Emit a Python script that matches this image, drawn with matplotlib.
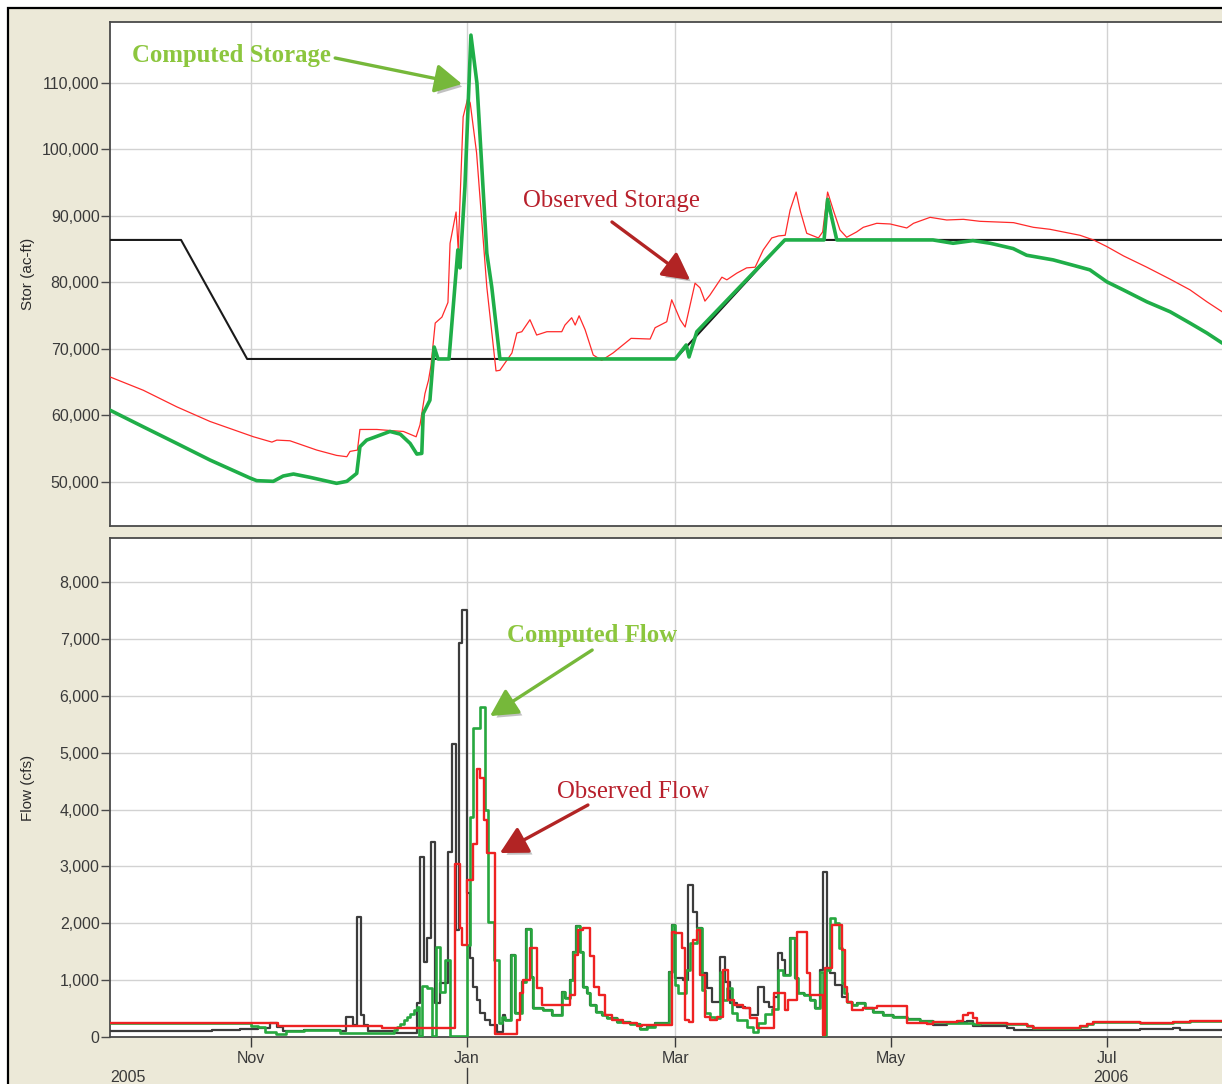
import datetime
import numpy as np
import matplotlib
matplotlib.use('Agg')
import matplotlib.pyplot as plt
import matplotlib.dates as mdates
import matplotlib.patheffects as pe
import matplotlib.transforms as mtrans
from matplotlib.patches import Rectangle
from matplotlib.lines import Line2D
from matplotlib.ticker import FuncFormatter

# ---------------- data (x = days since 2005-10-01) ----------------
guide_days = [-9, 11.2, 29.9, 151, 182, 310]
guide_stor = [86400, 86400, 68500, 68500, 86400, 86400]

comp_stor_days = [-8.9, 0.5, 10.0, 19.4, 30.7, 32.6, 37.3, 40.1, 43.0, 47.7, 55.2, 58.1,
                  60.9, 61.8, 63.7, 70.3, 73.2, 76.0, 77.9, 79.3, 79.7, 81.6, 82.8, 83.9,
                  87.0, 89.5, 90.1, 91.5, 93.2, 94.9, 97.7, 99.1, 101.4, 151.0, 154.1,
                  154.9, 157.1, 182.0, 193.1, 194.1, 196.7, 223.9, 229.6, 235.2, 240.1,
                  246.6, 250.4, 257.9, 263.5, 268.3, 273.1, 277.7, 284.4, 291.0, 296.6,
                  301.4, 305.7, 308.5]
comp_stor = [60800, 58300, 55800, 53300, 50600, 50200, 50100, 50900, 51200, 50700, 49800, 50100,
             51300, 55300, 56300, 57600, 57200, 55800, 54200, 54300, 60300, 62300, 70300, 68500,
             68500, 84900, 82200, 94400, 117200, 110000, 84400, 79300, 68500, 68500, 70600,
             68800, 72600, 86400, 86400, 92500, 86400, 86400, 85900, 86300, 85900,
             85100, 84100, 83400, 82600, 81900, 80100, 78900, 77100, 75600, 73900,
             72400, 70900, 70400]

obs_stor_days = [-8.9, 0.5, 10.0, 19.4, 31.7, 36.9, 38.3, 42.0, 49.6, 55.2, 58.1, 59.0, 61.1,
                 61.8, 66.6, 71.3, 74.1, 77.7, 78.8, 80.2, 81.2, 81.9, 83.1, 85.0, 86.7, 87.3,
                 89.0, 89.6, 91.0, 92.3, 93.0, 94.8, 97.7, 100.3, 101.4, 104.8, 106.2, 107.6,
                 109.9, 111.8, 114.7, 118.9, 119.8, 121.7, 122.7, 123.8, 125.5, 127.8, 130.2,
                 133.4, 138.5, 143.9, 145.3, 148.6, 150.0, 152.4, 153.8, 156.6, 158.0, 159.4,
                 160.8, 164.2, 165.6, 168.4, 171.2, 173.6, 175.9, 178.3, 180.2, 182.1, 183.5,
                 185.2, 186.3, 188.2, 191.5, 192.7, 194.1, 195.7, 197.6, 199.5, 202.3, 204.2,
                 208.0, 211.8, 216.5, 218.4, 223.1, 227.8, 232.5, 237.2, 242.0, 246.7, 252.3,
                 257.0, 261.7, 265.5, 269.3, 273.1, 277.8, 284.4, 291.0, 296.6, 301.4, 305.7,
                 308.5]
obs_stor = [65800, 63800, 61300, 59100, 56800, 56000, 56300, 56200, 54800, 54000, 53800, 54600, 54800,
            57900, 57900, 57700, 57600, 56800, 58600, 63300, 65300, 67500, 73900, 74800, 77000, 85900,
            90600, 84900, 104900, 107700, 107000, 99500, 79300, 66700, 66800, 69400, 72400, 72600,
            74400, 72100, 72600, 72600, 73600, 74700, 73600, 75000, 72900, 69100, 68300,
            69400, 71600, 71500, 73200, 74100, 77400, 74400, 73300, 79900, 79200, 77200,
            78100, 80800, 80400, 81400, 82200, 82300, 84900, 86700, 87000, 87100, 90900,
            93600, 90900, 87400, 86700, 87600, 93600, 90900, 87900, 86800, 87600, 88300,
            88900, 88800, 88200, 88900, 89800, 89400, 89500, 89200, 89100, 89000, 88300,
            88000, 87500, 87100, 86400, 85400, 84000, 82300, 80500, 78900, 77100, 75600,
            74800]

inflow_days = [-9, 20, 28, 33, 36.5, 38.3, 40.0, 46.0, 52.0, 56.2, 57.9, 59.95, 60.9, 62.0, 63.0,
               64.2, 71.3, 77.9, 78.8, 80.0, 80.9, 81.9, 83.1, 84.5, 86.8, 87.8, 89.0, 89.7, 90.7,
               92.0, 93.0, 93.9, 94.8, 95.8, 97.2, 98.6, 100.5, 102.4, 102.9, 104.6, 105.6, 107.6,
               108.8, 110.1, 110.9, 113.7, 116.1, 118.9, 119.8, 121.2, 122.2, 122.9, 124.1, 124.8,
               126.0, 126.9, 128.6, 130.2, 131.6, 134.4, 138.2, 141.0, 142.9, 145.3, 149.1, 150.0,
               150.9, 153.3, 154.7, 156.1, 157.1, 158.5, 159.9, 161.3, 163.7, 165.1, 166.5, 168.4,
               170.8, 172.2, 174.5, 176.0, 177.4, 178.8, 180.2, 181.1, 182.1, 183.5, 184.9, 185.8,
               187.3, 189.1, 190.6, 192.0, 192.9, 193.9, 194.8, 196.2, 198.1, 199.5, 200.9, 202.3,
               204.7, 207.0, 209.9, 212.7, 216.5, 220.3, 224.0, 227.8, 231.6, 233.5, 235.3, 244.8,
               246.7, 282.5, 291.9, 293.8, 310]
inflow = [110, 125, 145, 160, 250, 170, 110, 125, 130, 112, 358, 212, 2104, 388, 212,
          112, 65, 593, 3171, 1325, 1735, 3435, 593, 944, 3259, 5152, 1875, 6933, 7507,
          2526, 1384, 886, 651, 417, 300, 212, 95, 387, 299, 1442, 420, 973,
          1893, 1060, 504, 475, 387, 797, 680, 1002, 1500, 1951, 1500, 885,
          768, 563, 445, 387, 328, 270, 229, 135, 182, 241, 1149, 1969,
          1032, 1000, 2672, 2204, 1911, 1120, 856, 622, 1413, 973, 592, 534,
          504, 387, 885, 622, 534, 709, 1471, 1354, 1090, 1735, 1032, 768,
          739, 651, 504, 1178, 2907, 1178, 1120, 915, 700, 621, 563, 604,
          504, 446, 387, 346, 311, 282, 211, 241, 270, 290, 200, 153,
          123, 135, 150, 123, 123]

comp_flow_days = [-9, 31.0, 33.0, 35.0, 38.0, 41.0, 46.0, 52.0, 56.2, 71.3, 72.3, 73.2, 74.2, 75.1,
                  76.1, 77.0, 78.0, 78.6, 79.5, 80.9, 82.3, 83.2, 84.5, 85.9, 87.3, 92.0, 92.8,
                  93.9, 95.8, 97.2, 98.1, 99.7, 101.2, 101.9, 102.9, 104.6, 105.6, 107.6, 108.8,
                  110.1, 110.9, 113.7, 116.1, 118.9, 119.8, 121.2, 122.2, 122.9, 124.1, 124.8,
                  126.0, 126.9, 128.6, 130.2, 131.6, 134.4, 138.2, 141.0, 142.9, 145.3, 149.1,
                  150.0, 150.9, 151.9, 154.0, 155.2, 157.1, 158.5, 159.4, 160.9, 162.3, 163.7,
                  164.6, 165.6, 167.0, 168.4, 171.2, 173.1, 174.5, 176.4, 178.3, 180.2, 181.6,
                  183.5, 184.9, 185.8, 187.3, 189.1, 190.6, 192.0, 192.9, 193.7, 194.8, 196.2,
                  197.2, 198.1, 198.8, 199.5, 200.9, 202.3, 204.7, 207.0, 209.9, 212.7, 216.5,
                  220.3, 224.0, 227.8, 231.6, 235.3, 237.2, 241.0, 244.8, 250.4, 252.3, 265.5,
                  267.5, 269.3, 282.5, 291.9, 296.6, 310]
comp_flow = [240, 200, 170, 80, 50, 100, 120, 130, 65, 117, 176, 234, 293, 352,
             410, 469, 527, 20, 897, 856, 20, 1589, 798, 1354, 20, 1618, 3874,
             5427, 5808, 3991, 2028, 1354, 240, 357, 299, 1442, 420, 973, 1893,
             1060, 504, 475, 387, 797, 680, 1002, 1500, 1951, 1500, 885,
             768, 563, 445, 387, 328, 270, 229, 135, 182, 241, 1149,
             1969, 915, 768, 1178, 1647, 1911, 827, 416, 358, 330, 1149,
             651, 856, 416, 299, 182, 94, 250, 400, 500, 1178, 1090,
             1735, 1032, 768, 739, 651, 504, 1149, 30, 1180, 2087, 1999,
             1559, 950, 768, 621, 563, 604, 504, 446, 387, 346, 311,
             282, 258, 241, 245, 229, 240, 240, 229, 190, 164, 190,
             230, 270, 252, 265, 287, 287]

obs_flow_days = [-9, 36.5, 38.5, 68.0, 88.7, 90.1, 90.8, 92.0, 93.9, 95.0, 95.8, 96.9, 97.7, 100.0,
                 106.2, 107.1, 108.0, 109.9, 111.8, 113.2, 121.2, 122.7, 123.6, 125.0, 126.9, 128.0,
                 129.3, 131.1, 133.0, 136.3, 140.1, 141.5, 150.0, 150.9, 152.8, 153.8, 155.0, 156.1,
                 157.1, 158.0, 159.4, 160.9, 162.7, 164.6, 166.0, 167.5, 170.3, 172.2, 174.1, 178.8,
                 182.1, 183.0, 185.4, 188.2, 189.1, 192.9, 193.4, 195.3, 198.1, 199.0, 199.5, 200.9,
                 204.2, 208.0, 216.5, 222.1, 224.0, 230.6, 232.5, 233.9, 235.3, 236.3, 237.2, 241.0,
                 244.8, 250.4, 252.3, 265.5, 267.5, 269.3, 282.5, 291.9, 296.6, 310]
obs_flow = [240, 250, 190, 155, 3050, 1910, 1620, 2760, 3400, 4720, 4550, 3820, 3230, 55,
            300, 780, 1000, 1560, 855, 560, 740, 1440, 1880, 1910, 1420, 885,
            740, 390, 300, 240, 195, 211, 1852, 1823, 1559, 299, 270, 1706,
            1881, 1090, 358, 299, 358, 1178, 651, 563, 504, 328, 153, 768,
            475, 651, 1852, 1120, 739, 30, 1207, 1969, 1530, 885, 621, 475,
            504, 545, 252, 230, 270, 290, 387, 416, 330, 240, 252, 240,
            229, 190, 164, 190, 230, 270, 252, 265, 287, 287]

stor_ticks = [50000, 60000, 70000, 80000, 90000, 100000, 110000]
flow_ticks = [0, 1000, 2000, 3000, 4000, 5000, 6000, 7000, 8000]
month_ticks = ['2005-11-01', '2006-01-01', '2006-03-01', '2006-05-01', '2006-07-01']
month_labels = ['Nov', 'Jan', 'Mar', 'May', 'Jul']

# ---------------- helpers ----------------
BASE = mdates.date2num(datetime.datetime(2005, 10, 1))


def dn(days):
    return BASE + np.asarray(days, dtype=float)


W, H = 1222, 1084
fig = plt.figure(figsize=(W / 100, H / 100), dpi=100)
fig.patch.set_facecolor('white')

# beige panel with black frame
fig.add_artist(Rectangle((8 / W, -0.2), 1.2, 1 - 8 / H + 0.2, transform=fig.transFigure,
                         facecolor='#ECE9D8', edgecolor='black', lw=1.6, zorder=0))

TICK_FONT = dict(family='Liberation Sans', size=11.5, color='#3a3a3a')
xl = (-8.9, 308.5)
ax_w = (1232 - 110) / W

ax1 = fig.add_axes([110 / W, 1 - 526 / H, ax_w, (526 - 22) / H])
ax2 = fig.add_axes([110 / W, 1 - 1037 / H, ax_w, (1037 - 538) / H])

tick_pos = [mdates.date2num(datetime.datetime.fromisoformat(m)) for m in month_ticks]

for ax in (ax1, ax2):
    ax.set_facecolor('white')
    ax.set_xlim(dn(xl[0]), dn(xl[1]))
    ax.set_xticks(tick_pos)
    ax.grid(True, color='#d2d2d2', lw=1.0)
    ax.set_axisbelow(True)
    for s in ('left', 'bottom', 'top'):
        ax.spines[s].set_color('#4a4a4a')
        ax.spines[s].set_linewidth(1.3)
    ax.spines['right'].set_visible(False)
    ax.tick_params(axis='y', length=6.5, width=1, color='#4a4a4a', pad=1)

fmt = FuncFormatter(lambda v, p: f'{int(round(v)):,}')

# top storage panel
ax1.plot(dn(guide_days), guide_stor, color='#1a1a1a', lw=1.5, zorder=3)
ax1.plot(dn(obs_stor_days), obs_stor, color='#ff2a2a', lw=0.9, zorder=4)
ax1.plot(dn(comp_stor_days), comp_stor, color='#1fae48', lw=2.6, zorder=5, solid_joinstyle='round')
ax1.set_ylim(43383, 119173)
ax1.set_yticks(stor_ticks)
ax1.yaxis.set_major_formatter(fmt)
ax1.tick_params(axis='x', length=0, labelbottom=False)
ax1.set_ylabel('Stor (ac-ft)', fontdict=dict(family='Liberation Sans', size=11, color='#2a2a2a'))

# bottom flow panel
ax2.plot(dn(inflow_days), inflow, color='#3c3c3c', lw=1.6, drawstyle='steps-post', zorder=3)
ax2.plot(dn(comp_flow_days), comp_flow, color='#27a83f', lw=1.9, drawstyle='steps-post', zorder=4)
ax2.plot(dn(obs_flow_days), obs_flow, color='#ee2222', lw=1.7, drawstyle='steps-post', zorder=5)
ax2.set_ylim(0, 8774)
ax2.set_yticks(flow_ticks)
ax2.yaxis.set_major_formatter(fmt)
ax2.set_xticklabels(month_labels)
ax2.tick_params(axis='x', length=7, width=1, color='#3a3a3a', pad=3, direction='out')
ax2.set_ylabel('Flow (cfs)', fontdict=dict(family='Liberation Sans', size=11, color='#2a2a2a'))

for ax in (ax1, ax2):
    for lab in ax.get_yticklabels() + ax.get_xticklabels():
        lab.set_fontfamily('Liberation Sans')
        lab.set_fontsize(11.5)
        lab.set_color('#3a3a3a')

# y-labels centred near x ~ 27 px like the reference
ax1.yaxis.set_label_coords(-(110 - 35) / (ax_w * W), 0.5)
ax2.yaxis.set_label_coords(-(110 - 35) / (ax_w * W), 0.5)

# year labels and separator tick
blend = mtrans.blended_transform_factory(ax2.transData, fig.transFigure)
fig.text(110 / W, 1 - 1078 / H, '2005', ha='left', va='center', **TICK_FONT)
fig.text(1093 / W, 1 - 1078 / H, '2006', ha='left', va='center', **TICK_FONT)
fig.add_artist(Line2D([tick_pos[1], tick_pos[1]], [1 - 1068 / H, -0.01], transform=blend,
                      color='#3a3a3a', lw=1))

# ---------------- annotations ----------------
GREEN_TXT = '#8cc63e'
GREEN_ARR = '#76b83a'
RED_TXT = '#b8202c'
RED_ARR = '#b22424'
shadow = [pe.SimplePatchShadow(offset=(2.5, -2.5), shadow_rgbFace='#777777', alpha=0.45), pe.Normal()]
arrowstyle = '-|>,head_length=0.75,head_width=0.4'


def arrow(ax, tail, tip, color):
    a = ax.annotate('', xy=(dn(tip[0]), tip[1]), xytext=(dn(tail[0]), tail[1]),
                    arrowprops=dict(arrowstyle=arrowstyle, color=color, lw=2.4,
                                    mutation_scale=22, shrinkA=0, shrinkB=0), zorder=8)
    a.arrow_patch.set_path_effects(shadow)


ax1.text(dn(53.6), 114200, 'Computed Storage', ha='right', va='center', color=GREEN_TXT,
         family='Liberation Serif', fontweight='bold', fontsize=17.8, zorder=9)
arrow(ax1, (54.8, 113760), (90.7, 109850), GREEN_ARR)

ax1.text(dn(133.0), 92256, 'Observed Storage', ha='center', va='center', color=RED_TXT,
         family='Liberation Serif', fontsize=17.8, zorder=9)
arrow(ax1, (133.1, 89100), (155.2, 80380), RED_ARR)

ax2.text(dn(127.6), 7068, 'Computed Flow', ha='center', va='center', color=GREEN_TXT,
         family='Liberation Serif', fontweight='bold', fontsize=17.8, zorder=9)
arrow(ax2, (127.5, 6804), (98.6, 5643), GREEN_ARR)

ax2.text(dn(139.1), 4307, 'Observed Flow', ha='center', va='center', color=RED_TXT,
         family='Liberation Serif', fontsize=17.8, zorder=9)
arrow(ax2, (126.3, 4079), (101.4, 3235), RED_ARR)

fig.savefig('out.png', dpi=100, facecolor=fig.get_facecolor())
